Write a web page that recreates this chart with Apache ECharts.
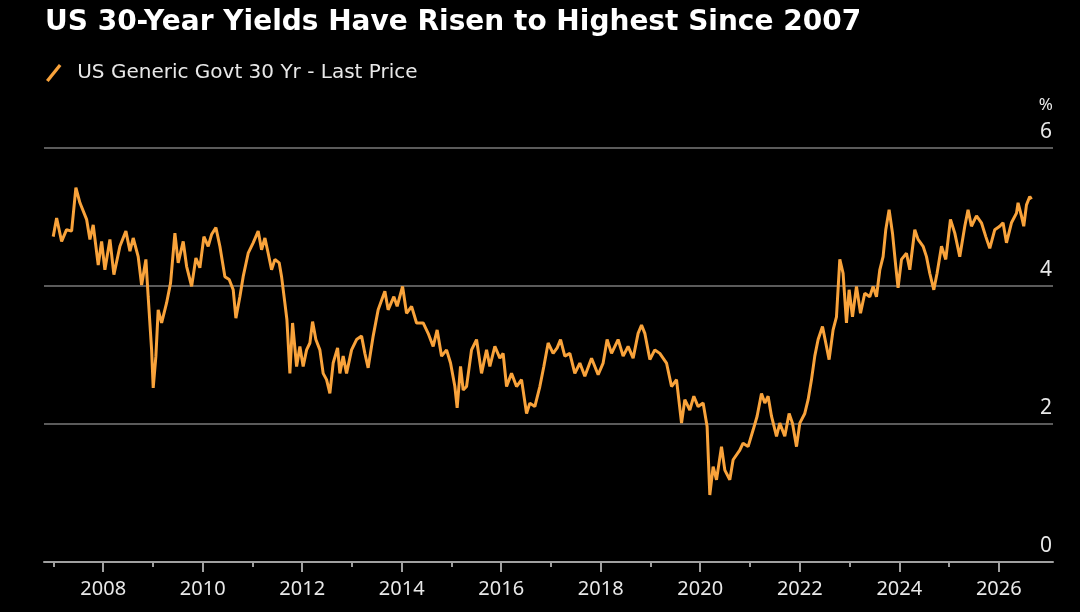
<!DOCTYPE html>
<html>
<head>
<meta charset="utf-8">
<script src="https://cdn.jsdelivr.net/npm/echarts@6/dist/echarts.min.js"></script>
<style>
  html, body { margin: 0; padding: 0; background: #000; }
  #chart { width: 1080px; height: 612px; }
</style>
</head>
<body>
<div id="chart"></div>
<script>
// decimal years
var years = [2006.995, 2007.064, 2007.164, 2007.264, 2007.365, 2007.451, 2007.532, 2007.666, 2007.733, 2007.799,
    2007.900, 2007.968, 2008.034, 2008.135, 2008.215, 2008.336, 2008.456, 2008.537, 2008.603, 2008.703,
    2008.772, 2008.858, 2008.904, 2008.973, 2009.005, 2009.059, 2009.105, 2009.174, 2009.274, 2009.354,
    2009.441, 2009.507, 2009.608, 2009.676, 2009.777, 2009.863, 2009.943, 2010.024, 2010.110, 2010.178,
    2010.265, 2010.345, 2010.446, 2010.532, 2010.613, 2010.667, 2010.747, 2010.813, 2010.914, 2011.014,
    2011.115, 2011.183, 2011.250, 2011.316, 2011.384, 2011.451, 2011.537, 2011.585, 2011.651, 2011.692,
    2011.752, 2011.806, 2011.887, 2011.953, 2012.019, 2012.088, 2012.154, 2012.208, 2012.274, 2012.355,
    2012.421, 2012.489, 2012.556, 2012.622, 2012.711, 2012.757, 2012.823, 2012.891, 2012.992, 2013.092,
    2013.193, 2013.259, 2013.325, 2013.426, 2013.526, 2013.661, 2013.727, 2013.842, 2013.908, 2014.017,
    2014.097, 2014.198, 2014.298, 2014.431, 2014.531, 2014.632, 2014.712, 2014.801, 2014.901, 2014.981,
    2015.068, 2015.114, 2015.182, 2015.235, 2015.303, 2015.403, 2015.504, 2015.604, 2015.705, 2015.771,
    2015.872, 2015.972, 2016.038, 2016.107, 2016.207, 2016.308, 2016.408, 2016.509, 2016.575, 2016.675,
    2016.776, 2016.856, 2016.943, 2017.043, 2017.124, 2017.192, 2017.278, 2017.379, 2017.479, 2017.580,
    2017.680, 2017.815, 2017.948, 2018.048, 2018.128, 2018.217, 2018.349, 2018.450, 2018.550, 2018.651,
    2018.751, 2018.820, 2018.886, 2018.987, 2019.087, 2019.187, 2019.322, 2019.423, 2019.523, 2019.624,
    2019.690, 2019.790, 2019.871, 2019.957, 2020.058, 2020.138, 2020.192, 2020.259, 2020.327, 2020.427,
    2020.494, 2020.594, 2020.661, 2020.795, 2020.861, 2020.962, 2021.062, 2021.143, 2021.231, 2021.298,
    2021.364, 2021.432, 2021.533, 2021.599, 2021.699, 2021.786, 2021.854, 2021.935, 2022.001, 2022.101,
    2022.168, 2022.236, 2022.302, 2022.369, 2022.457, 2022.523, 2022.590, 2022.670, 2022.738, 2022.805,
    2022.871, 2022.939, 2022.992, 2023.060, 2023.140, 2023.221, 2023.307, 2023.408, 2023.474, 2023.542,
    2023.609, 2023.675, 2023.729, 2023.796, 2023.864, 2023.930, 2023.976, 2024.045, 2024.145, 2024.212,
    2024.312, 2024.378, 2024.479, 2024.547, 2024.613, 2024.694, 2024.760, 2024.849, 2024.935, 2025.029,
    2025.116, 2025.216, 2025.317, 2025.383, 2025.451, 2025.552, 2025.652, 2025.739, 2025.819, 2025.920,
    2026.020, 2026.086, 2026.155, 2026.255, 2026.356, 2026.388, 2026.456, 2026.502, 2026.557, 2026.623,
    2026.657];

// US Generic Govt 30 Yr, %
var yields = [4.71, 4.98, 4.64, 4.81, 4.79, 5.42, 5.20, 4.96, 4.67, 4.88,
    4.30, 4.64, 4.23, 4.67, 4.16, 4.57, 4.79, 4.50, 4.69, 4.42,
    4.01, 4.38, 3.84, 3.07, 2.52, 2.98, 3.65, 3.46, 3.75, 4.04,
    4.76, 4.33, 4.64, 4.28, 3.99, 4.40, 4.26, 4.71, 4.57, 4.74,
    4.84, 4.57, 4.13, 4.09, 3.94, 3.53, 3.84, 4.13, 4.47, 4.62,
    4.79, 4.52, 4.69, 4.47, 4.23, 4.38, 4.33, 4.13, 3.75, 3.51,
    2.73, 3.46, 2.83, 3.12, 2.83, 3.07, 3.17, 3.48, 3.22, 3.07,
    2.73, 2.64, 2.44, 2.88, 3.10, 2.73, 2.98, 2.73, 3.07, 3.22,
    3.27, 3.02, 2.81, 3.27, 3.65, 3.92, 3.65, 3.84, 3.70, 3.99,
    3.60, 3.70, 3.46, 3.46, 3.31, 3.12, 3.36, 2.98, 3.07, 2.88,
    2.54, 2.23, 2.83, 2.49, 2.54, 3.07, 3.22, 2.73, 3.07, 2.83,
    3.12, 2.95, 3.02, 2.54, 2.73, 2.54, 2.64, 2.15, 2.30, 2.25,
    2.54, 2.83, 3.17, 3.02, 3.10, 3.22, 2.98, 3.02, 2.73, 2.88,
    2.69, 2.95, 2.71, 2.88, 3.22, 3.02, 3.22, 2.98, 3.12, 2.95,
    3.31, 3.43, 3.31, 2.93, 3.07, 3.02, 2.88, 2.54, 2.64, 2.01,
    2.35, 2.20, 2.40, 2.25, 2.30, 1.96, 0.97, 1.38, 1.19, 1.67,
    1.33, 1.19, 1.48, 1.62, 1.72, 1.67, 1.91, 2.11, 2.44, 2.30,
    2.40, 2.11, 1.82, 2.01, 1.82, 2.15, 2.01, 1.67, 2.01, 2.15,
    2.35, 2.64, 2.98, 3.22, 3.41, 3.17, 2.93, 3.36, 3.55, 4.38,
    4.18, 3.46, 3.94, 3.55, 3.99, 3.60, 3.89, 3.84, 3.99, 3.84,
    4.23, 4.42, 4.81, 5.10, 4.76, 4.28, 3.97, 4.38, 4.47, 4.23,
    4.81, 4.67, 4.57, 4.42, 4.18, 3.94, 4.18, 4.57, 4.38, 4.96,
    4.76, 4.42, 4.86, 5.10, 4.86, 5.01, 4.91, 4.71, 4.54, 4.81,
    4.86, 4.91, 4.62, 4.91, 5.05, 5.20, 5.01, 4.86, 5.17, 5.29,
    5.25];

var labelYears = [2008, 2010, 2012, 2014, 2016, 2018, 2020, 2022, 2024, 2026];
var minorYears = [2007, 2009, 2011, 2013, 2015, 2017, 2019, 2021, 2023, 2025];
var yTicks = [0, 2, 4, 6];

var seriesName = 'US Generic Govt 30 Yr - Last Price';
var lineColor = '#f9a33b';
var titleFont = 'DejaVu Sans';
var labelFont = 'Noto Sans';

var points = [];
for (var i = 0; i < years.length; i++) {
    points.push([years[i], yields[i]]);
}

var myChart = echarts.init(document.getElementById('chart'));
var option = {
    backgroundColor: '#000',
    animation: false,
    title: {
        text: 'US 30-Year Yields Have Risen to Highest Since 2007',
        left: 40,
        top: 4,
        textStyle: {
            fontFamily: titleFont,
            fontWeight: 'bold',
            fontSize: 28,
            color: '#fff'
        }
    },
    legend: {
        left: 41,
        top: 58,
        itemWidth: 17,
        itemHeight: 18,
        icon: 'path://M0,15.5 L12.5,0 L15,2 L2.5,17.5 Z',
        data: [{name: seriesName, itemStyle: {color: lineColor}}],
        textStyle: {
            fontFamily: titleFont,
            fontSize: 20,
            color: '#e8e8e8',
            padding: [0, 0, 0, 10]
        }
    },
    grid: {
        left: 44,
        right: 27,
        top: 147.5,
        bottom: 50
    },
    xAxis: [
        {
            type: 'value',
            min: 2006.81,
            max: 2027.09,
            axisLine: {show: true, lineStyle: {color: '#a0a0a0', width: 2}},
            axisTick: {show: true, length: 10, customValues: labelYears, lineStyle: {color: '#a0a0a0', width: 2}},
            axisLabel: {
                customValues: labelYears,
                color: '#e8e8e8',
                fontFamily: labelFont,
                fontSize: 20,
                margin: 17,
                formatter: function (v) { return String(Math.round(v)); }
            },
            splitLine: {show: false}
        },
        {
            type: 'value',
            min: 2006.81,
            max: 2027.09,
            position: 'bottom',
            axisLine: {show: false},
            axisTick: {show: true, length: 5, customValues: minorYears, lineStyle: {color: '#a0a0a0', width: 2}},
            axisLabel: {show: false},
            splitLine: {show: false}
        }
    ],
    yAxis: {
        type: 'value',
        position: 'right',
        min: 0,
        max: 6,
        interval: 2,
        name: '%',
        nameLocation: 'end',
        nameGap: 34,
        nameTextStyle: {
            fontFamily: labelFont,
            fontSize: 17,
            color: '#e8e8e8',
            align: 'right'
        },
        axisLine: {show: false},
        axisTick: {show: false},
        axisLabel: {
            inside: true,
            margin: 1,
            color: '#e8e8e8',
            fontFamily: labelFont,
            fontSize: 21,
            verticalAlign: 'bottom',
            padding: [0, 0, 5, 0],
            customValues: yTicks
        },
        splitLine: {show: true, lineStyle: {color: '#7a7a7a', width: 1.5}}
    },
    series: [
        {
            name: seriesName,
            type: 'line',
            data: points,
            showSymbol: false,
            lineStyle: {color: lineColor, width: 3},
            itemStyle: {color: lineColor}
        }
    ]
};
myChart.setOption(option);
</script>
</body>
</html>
